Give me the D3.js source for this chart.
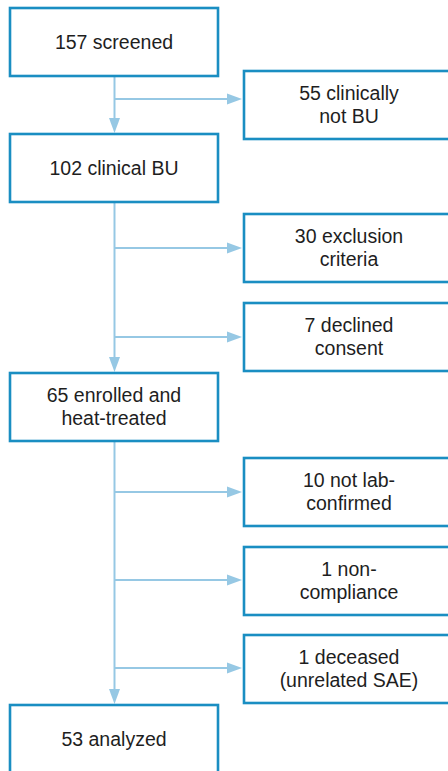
<!DOCTYPE html>
<html>
<head>
<meta charset="utf-8">
<script src="https://cdn.jsdelivr.net/npm/d3@7"></script>
<style>
  html, body { margin: 0; padding: 0; background: #fff; }
  svg { display: block; }
</style>
</head>
<body>
<div id="chart"></div>
<script>
// ---- data ----
const stageCounts = [157, 102, 65, 53];
const stageLabels = [["screened"], ["clinical BU"], ["enrolled and", "heat-treated"], ["analyzed"]];
const exclusionStage = [0, 1, 1, 2, 2, 2];          // stage after which the exclusion happens
const exclusionCounts = [55, 30, 7, 10, 1, 1];
const exclusionLabels = [["clinically", "not BU"], ["exclusion", "criteria"], ["declined", "consent"],
                         ["not lab-", "confirmed"], ["non-", "compliance"], ["deceased", "(unrelated SAE)"]];

// ---- layout ----
const W = 448, H = 771;
const mainX0 = 10, mainX1 = 218, boxH = 68;
const sideX0 = 244, sideX1 = 454;
const mainTops = [8, 134, 373, 705];
const sideTops = [71, 214, 303, 458, 547, 635];
const spineX = (mainX0 + mainX1) / 2 + 0.5;
const arrowY = [99, 248, 337, 492, 580, 668];
const fontSize = 19.5, lineGap = 23;
const boxColor = "#1a8ec2", arrowColor = "#96c8e4", textColor = "#1e1e1e";

const svg = d3.select("#chart").append("svg").attr("width", W).attr("height", H);

const stages = stageCounts.map((c, i) => ({
  lines: stageLabels[i].map((l, j) => j === 0 ? c + " " + l : l),
  top: mainTops[i]
}));
const exclusions = exclusionCounts.map((c, i) => ({
  stage: exclusionStage[i],
  lines: exclusionLabels[i].map((l, j) => j === 0 ? c + " " + l : l),
  top: sideTops[i],
  ay: arrowY[i]
}));

// connectors (vertical spine with arrowheads)
const gArrows = svg.append("g");
stages.slice(1).forEach((s, i) => {
  const from = stages[i].top + boxH;
  const to = s.top - 1;
  gArrows.append("line")
    .attr("x1", spineX).attr("x2", spineX)
    .attr("y1", from).attr("y2", to - 12)
    .attr("stroke", arrowColor).attr("stroke-width", 2);
  gArrows.append("path")
    .attr("d", `M${spineX - 5.5},${to - 15} L${spineX + 5.5},${to - 15} L${spineX},${to} Z`)
    .attr("fill", arrowColor);
});
// horizontal arrows to exclusion boxes
exclusions.forEach(e => {
  const tip = sideX0 - 2;
  gArrows.append("line")
    .attr("x1", spineX).attr("x2", tip - 12)
    .attr("y1", e.ay).attr("y2", e.ay)
    .attr("stroke", arrowColor).attr("stroke-width", 2);
  gArrows.append("path")
    .attr("d", `M${tip - 15},${e.ay - 5.5} L${tip - 15},${e.ay + 5.5} L${tip},${e.ay} Z`)
    .attr("fill", arrowColor);
});

function drawBox(g, x0, x1, top, lines) {
  g.append("rect")
    .attr("x", x0).attr("y", top).attr("width", x1 - x0).attr("height", boxH)
    .attr("fill", "#fff").attr("stroke", boxColor).attr("stroke-width", 2.6);
  const cx = (x0 + x1) / 2, cy = top + boxH / 2;
  const n = lines.length;
  const base0 = cy + 7 - (n - 1) * lineGap / 2;
  lines.forEach((l, j) => {
    g.append("text")
      .attr("x", cx).attr("y", base0 + j * lineGap - (n > 1 ? 0.5 : 0))
      .attr("text-anchor", "middle")
      .style("font-family", "'Liberation Sans', Arial, Helvetica, sans-serif")
      .attr("font-size", fontSize)
      .attr("fill", textColor)
      .text(l);
  });
}

const gBoxes = svg.append("g");
stages.forEach(s => drawBox(gBoxes, mainX0, mainX1, s.top, s.lines));
exclusions.forEach(e => drawBox(gBoxes, sideX0, sideX1, e.top, e.lines));
</script>
</body>
</html>
